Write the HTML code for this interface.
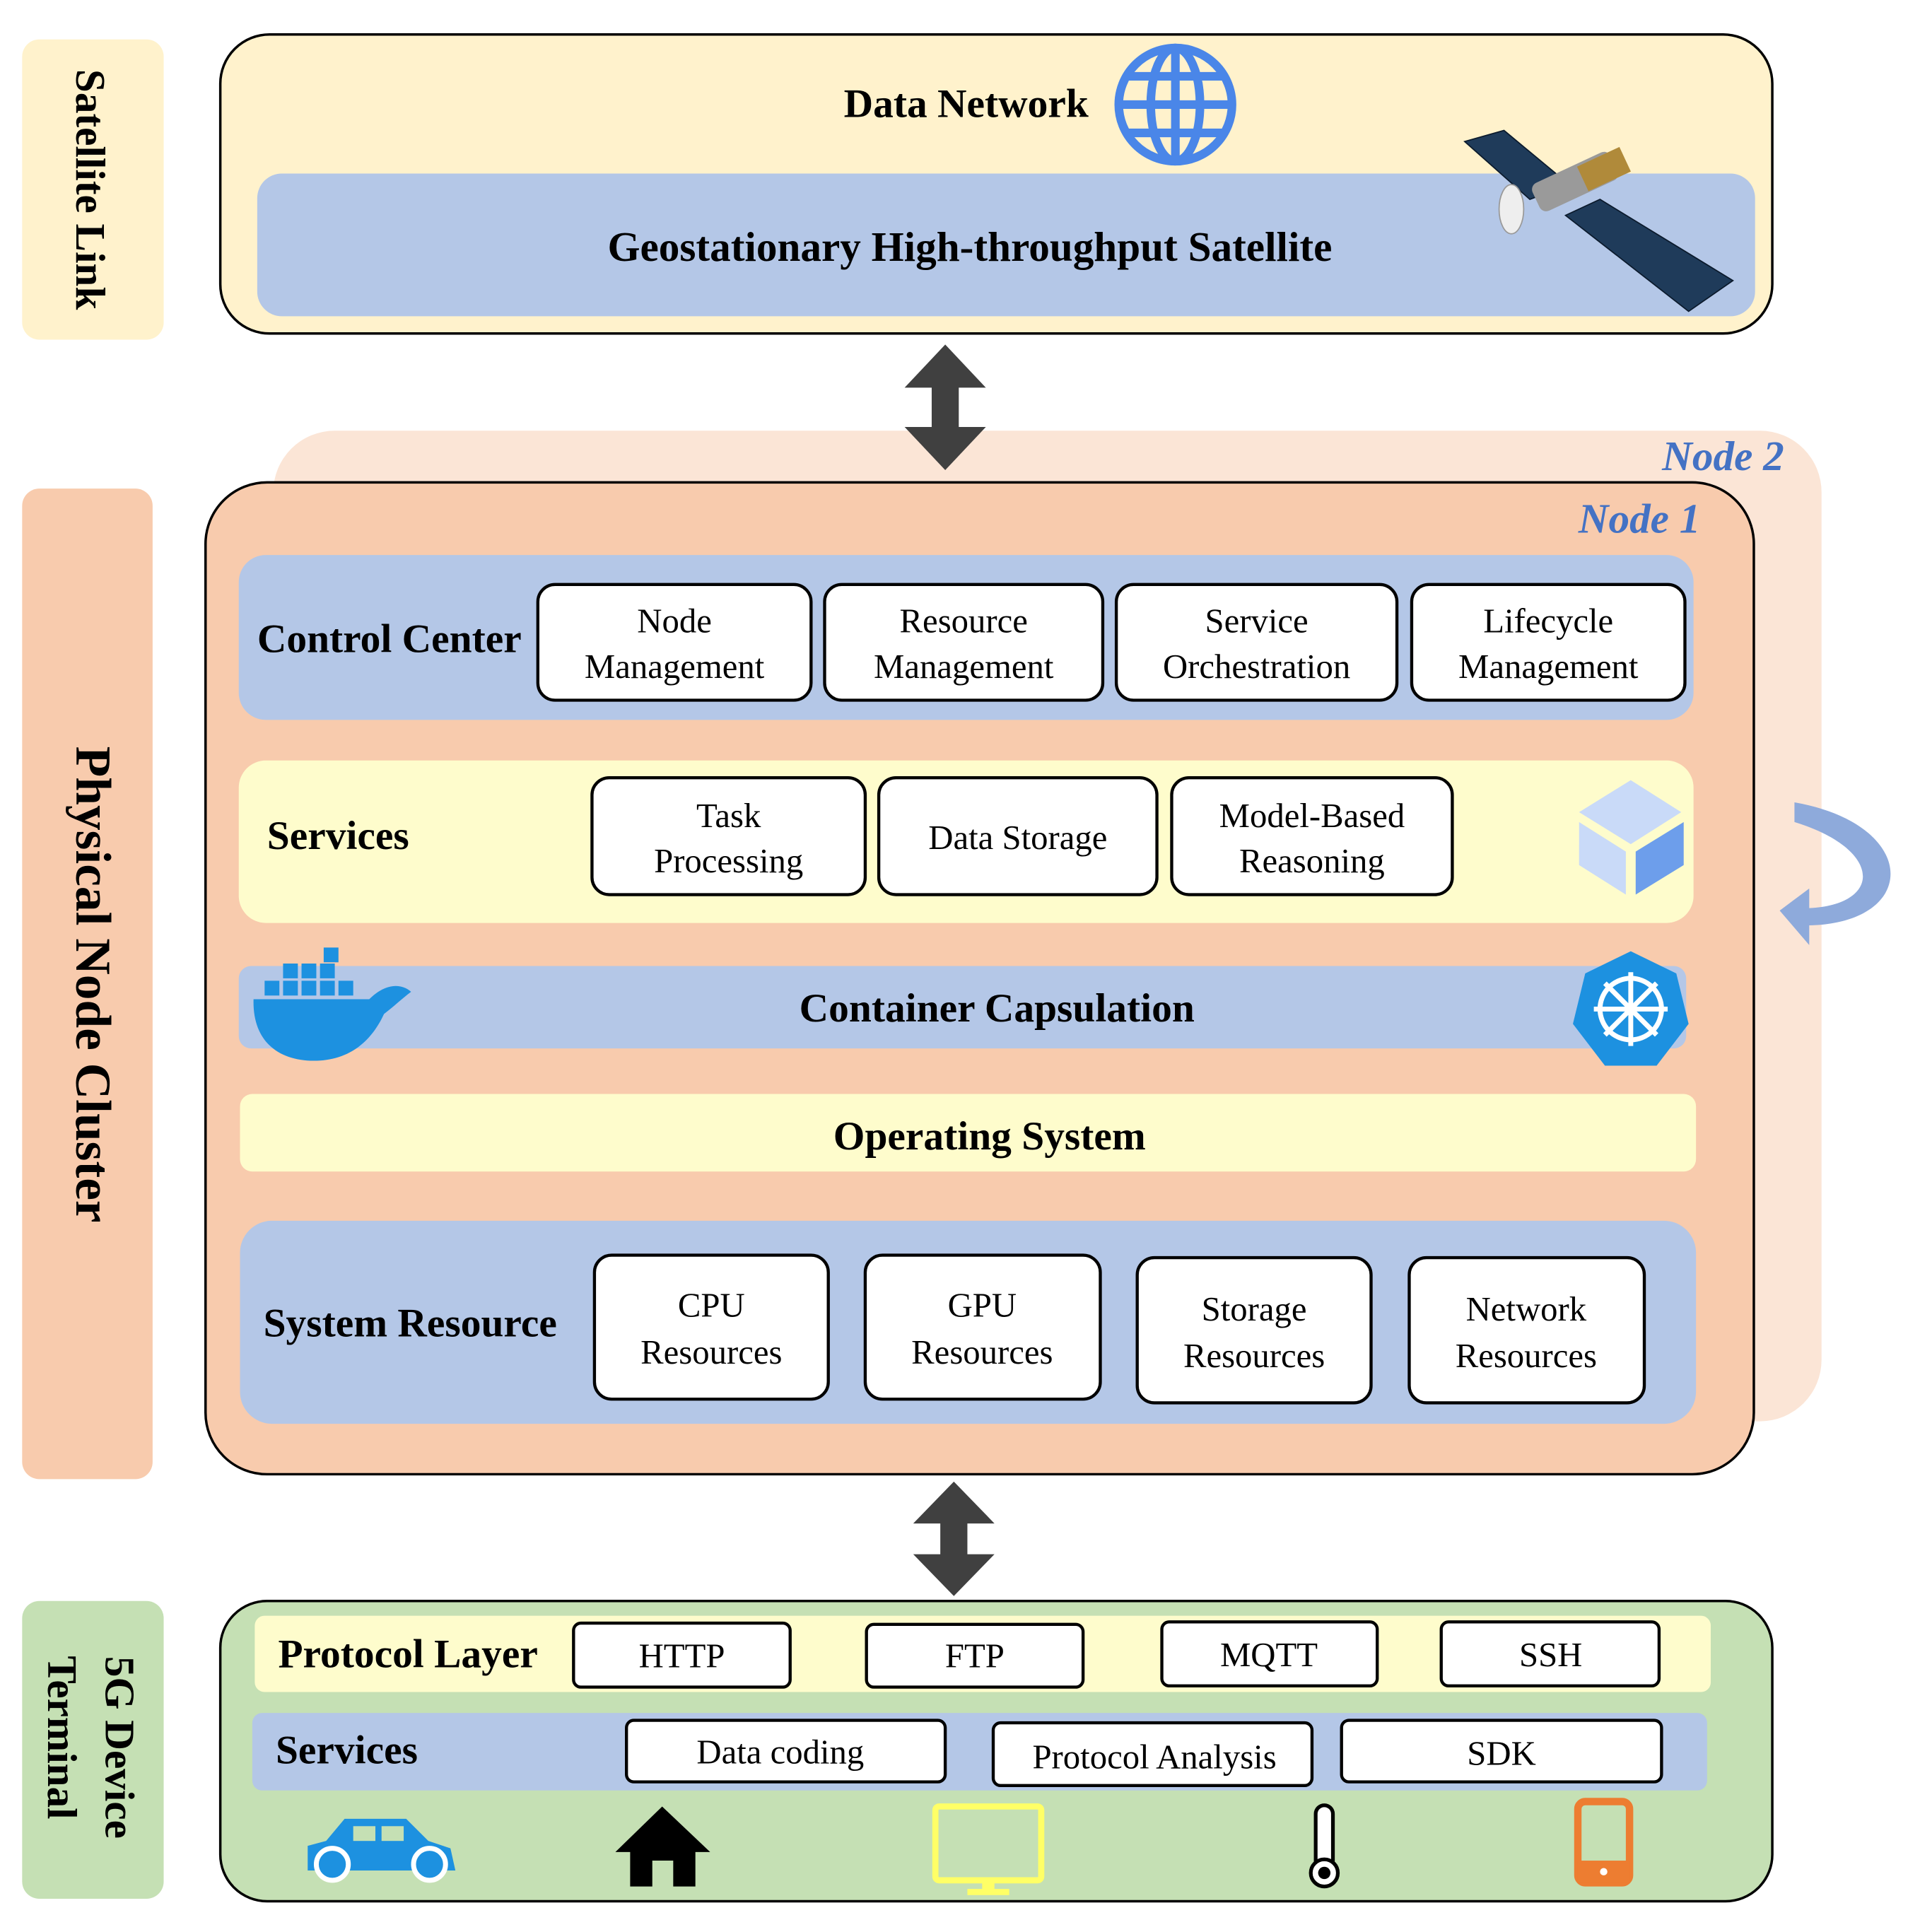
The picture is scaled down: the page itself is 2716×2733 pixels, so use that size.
<!DOCTYPE html>
<html><head><meta charset="utf-8"><style>
html,body{margin:0;padding:0;background:#fff}
svg{display:block}
text{font-family:"Liberation Serif",serif}
.b{font-weight:bold}
</style></head><body>
<svg width="2716" height="2733" viewBox="0 0 1560 1570" preserveAspectRatio="none" xmlns="http://www.w3.org/2000/svg">
<!-- Satellite link -->
<rect x="18" y="32" width="115" height="244" rx="14" fill="#fff2cc"/>
<text class="b" font-size="34" transform="translate(62,154) rotate(90)" text-anchor="middle">Satellite Link</text>
<rect x="179" y="28" width="1261" height="243" rx="40" fill="#fff2cc" stroke="#000" stroke-width="2"/>
<text class="b" font-size="33" x="785" y="95" text-anchor="middle">Data Network</text>
<g fill="none" stroke="#4a86e8" stroke-width="7">
<circle cx="955" cy="85" r="46"/>
<ellipse cx="955" cy="85" rx="20" ry="46"/>
<line x1="955" y1="39" x2="955" y2="131"/>
<line x1="909" y1="85" x2="1001" y2="85"/>
<line x1="915" y1="62" x2="995" y2="62"/>
<line x1="915" y1="108" x2="995" y2="108"/>
</g>
<rect x="209" y="141" width="1217" height="116" rx="20" fill="#b4c7e7"/>
<text class="b" font-size="34" x="788" y="212" text-anchor="middle">Geostationary High-throughput Satellite</text>
<!-- satellite -->
<g>
<polygon points="1190,115 1222,106 1275,150 1243,162" fill="#1f3b5a" stroke="#0b1a2c"/>
<polygon points="1272,175 1300,162 1408,228 1372,253" fill="#1f3b5a" stroke="#0b1a2c"/>
<rect x="1245" y="135" width="70" height="25" rx="6" fill="#9a9a9a" transform="rotate(-25 1280 148)"/>
<rect x="1285" y="128" width="38" height="22" fill="#b08a3a" transform="rotate(-25 1300 140)"/>
<ellipse cx="1228" cy="170" rx="10" ry="20" fill="#eee" stroke="#999"/>
</g>
<!-- node 2 -->
<rect x="222" y="350" width="1258" height="805" rx="50" fill="#fbe5d6"/>
<text class="b" font-style="italic" font-size="34" x="1400" y="382" text-anchor="middle" fill="#4472c4">Node 2</text>
<!-- arrow 1 -->
<polygon points="768,280 801,315 779,315 779,347 801,347 768,382 735,347 757,347 757,315 735,315" fill="#404040"/>
<!-- physical node label -->
<rect x="18" y="397" width="106" height="805" rx="14" fill="#f8cbad"/>
<text class="b" font-size="41" transform="translate(62,800) rotate(90)" text-anchor="middle">Physical Node Cluster</text>
<!-- node1 -->
<rect x="167" y="392" width="1258" height="806" rx="50" fill="#f8cbad" stroke="#000" stroke-width="2"/>
<text class="b" font-style="italic" font-size="34" x="1332" y="433" text-anchor="middle" fill="#4472c4">Node 1</text>
<!-- control center -->
<rect x="194" y="451" width="1182" height="134" rx="22" fill="#b4c7e7"/>
<text class="b" font-size="33" x="209" y="530">Control Center</text>
<g fill="#fff" stroke="#000" stroke-width="2.5">
<rect x="437" y="475" width="222" height="94" rx="14"/>
<rect x="670" y="475" width="226" height="94" rx="14"/>
<rect x="907" y="475" width="228" height="94" rx="14"/>
<rect x="1147" y="475" width="222" height="94" rx="14"/>
</g>
<g font-size="28" text-anchor="middle">
<text x="548" y="514">Node</text><text x="548" y="551">Management</text>
<text x="783" y="514">Resource</text><text x="783" y="551">Management</text>
<text x="1021" y="514">Service</text><text x="1021" y="551">Orchestration</text>
<text x="1258" y="514">Lifecycle</text><text x="1258" y="551">Management</text>
</g>
<!-- services -->
<rect x="194" y="618" width="1182" height="132" rx="22" fill="#fefccc"/>
<text class="b" font-size="33" x="217" y="690">Services</text>
<g fill="#fff" stroke="#000" stroke-width="2.5">
<rect x="481" y="632" width="222" height="95" rx="14"/>
<rect x="714" y="632" width="226" height="95" rx="14"/>
<rect x="952" y="632" width="228" height="95" rx="14"/>
</g>
<g font-size="28" text-anchor="middle">
<text x="592" y="672">Task</text><text x="592" y="709">Processing</text>
<text x="827" y="690">Data Storage</text>
<text x="1066" y="672">Model-Based</text><text x="1066" y="709">Reasoning</text>
</g>
<polygon points="1325,634 1366,660 1325,686 1283,660" fill="#c9daf8"/>
<polygon points="1283,668 1321,692 1321,727 1283,703" fill="#c9daf8"/>
<polygon points="1368,668 1329,692 1329,727 1368,703" fill="#6d9eeb"/>
<!-- curved arrow -->
<path d="M1458,652 C1560,670 1560,750 1470,752 L1470,768 L1446,740 L1470,722 L1470,738 C1530,735 1530,690 1458,668 Z" fill="#8eaadb"/>
<!-- container -->
<rect x="194" y="785" width="1176" height="67" rx="10" fill="#b4c7e7"/>
<text class="b" font-size="33" x="810" y="830" text-anchor="middle">Container Capsulation</text>
<path d="M206,812 L300,812 C312,800 325,798 334,806 C326,812 320,818 312,824 C300,850 280,862 255,862 C225,862 205,845 206,812 Z" fill="#1d91e0"/>
<g fill="#1d91e0"><rect x="215" y="797" width="12" height="12"/><rect x="230" y="797" width="12" height="12"/><rect x="245" y="797" width="12" height="12"/><rect x="260" y="797" width="12" height="12"/><rect x="275" y="797" width="12" height="12"/><rect x="230" y="783" width="12" height="12"/><rect x="245" y="783" width="12" height="12"/><rect x="260" y="783" width="12" height="12"/><rect x="263" y="770" width="12" height="12"/></g>
<polygon points="1325,773 1362,791 1372,832 1346,866 1304,866 1278,832 1288,791" fill="#1d91e0"/>
<g stroke="#fff" stroke-width="4" fill="none"><circle cx="1325" cy="820" r="25"/><line x1="1325" y1="790" x2="1325" y2="850"/><line x1="1295" y1="820" x2="1355" y2="820"/><line x1="1304" y1="799" x2="1346" y2="841"/><line x1="1346" y1="799" x2="1304" y2="841"/></g>
<!-- OS -->
<rect x="195" y="889" width="1183" height="63" rx="10" fill="#fefccc"/>
<text class="b" font-size="33" x="804" y="934" text-anchor="middle">Operating System</text>
<!-- System resource -->
<rect x="195" y="992" width="1183" height="165" rx="26" fill="#b4c7e7"/>
<text class="b" font-size="33" x="214" y="1086">System Resource</text>
<g fill="#fff" stroke="#000" stroke-width="2.5">
<rect x="483" y="1020" width="190" height="117" rx="14"/>
<rect x="703" y="1020" width="191" height="117" rx="14"/>
<rect x="924" y="1022" width="190" height="118" rx="14"/>
<rect x="1145" y="1022" width="191" height="118" rx="14"/>
</g>
<g font-size="28" text-anchor="middle">
<text x="578" y="1070">CPU</text><text x="578" y="1108">Resources</text>
<text x="798" y="1070">GPU</text><text x="798" y="1108">Resources</text>
<text x="1019" y="1073">Storage</text><text x="1019" y="1111">Resources</text>
<text x="1240" y="1073">Network</text><text x="1240" y="1111">Resources</text>
</g>
<!-- arrow 2 -->
<polygon points="775,1204 808,1238 786,1238 786,1263 808,1263 775,1297 742,1263 764,1263 764,1238 742,1238" fill="#404040"/>
<!-- 5G -->
<rect x="18" y="1301" width="115" height="242" rx="14" fill="#c5e0b4"/>
<text class="b" font-size="34" transform="translate(86,1420) rotate(90)" text-anchor="middle">5G Device</text>
<text class="b" font-size="34" transform="translate(39,1412) rotate(90)" text-anchor="middle">Terminal</text>
<rect x="179" y="1301" width="1261" height="244" rx="38" fill="#c5e0b4" stroke="#000" stroke-width="2"/>
<rect x="207" y="1313" width="1183" height="62" rx="8" fill="#fefccc"/>
<text class="b" font-size="33" x="226" y="1355">Protocol Layer</text>
<g fill="#fff" stroke="#000" stroke-width="2.5">
<rect x="466" y="1319" width="176" height="52" rx="6"/>
<rect x="704" y="1320" width="176" height="51" rx="6"/>
<rect x="944" y="1318" width="175" height="52" rx="6"/>
<rect x="1171" y="1318" width="177" height="52" rx="6"/>
</g>
<g font-size="28" text-anchor="middle">
<text x="554" y="1355">HTTP</text><text x="792" y="1355">FTP</text><text x="1031" y="1354">MQTT</text><text x="1260" y="1354">SSH</text>
</g>
<rect x="205" y="1392" width="1182" height="63" rx="8" fill="#b4c7e7"/>
<text class="b" font-size="33" x="224" y="1433">Services</text>
<g fill="#fff" stroke="#000" stroke-width="2.5">
<rect x="509" y="1398" width="259" height="50" rx="6"/>
<rect x="807" y="1400" width="259" height="51" rx="6"/>
<rect x="1090" y="1398" width="260" height="50" rx="6"/>
</g>
<g font-size="28" text-anchor="middle">
<text x="634" y="1433">Data coding</text><text x="938" y="1437">Protocol Analysis</text><text x="1220" y="1434">SDK</text>
</g>
<!-- icons -->
<g fill="#1d91e0">
<path d="M250,1500 L265,1496 L280,1478 L330,1478 L348,1496 L366,1502 L370,1520 L250,1520 Z"/>
<circle cx="270" cy="1515" r="13" stroke="#fff" stroke-width="4"/><circle cx="349" cy="1515" r="13" stroke="#fff" stroke-width="4"/>
</g>
<rect x="287" y="1484" width="18" height="12" fill="#c5e0b4"/><rect x="310" y="1484" width="18" height="12" fill="#c5e0b4"/>
<polygon points="538,1468 577,1505 565,1505 565,1533 547,1533 547,1512 530,1512 530,1533 512,1533 512,1505 500,1505" fill="#000"/>
<rect x="760" y="1468" width="86" height="60" rx="3" fill="none" stroke="#ffff66" stroke-width="5"/>
<rect x="798" y="1528" width="10" height="8" fill="#ffff66"/><rect x="786" y="1535" width="34" height="5" fill="#ffff66"/>
<rect x="1069" y="1467" width="14" height="52" rx="7" fill="#fff" stroke="#000" stroke-width="3"/>
<circle cx="1076" cy="1522" r="11" fill="#fff" stroke="#000" stroke-width="3"/><circle cx="1076" cy="1522" r="5" fill="#000"/>
<rect x="1282" y="1464" width="42" height="66" rx="6" fill="none" stroke="#ed7d31" stroke-width="6"/>
<rect x="1282" y="1512" width="42" height="18" fill="#ed7d31"/><circle cx="1303" cy="1521" r="3" fill="#fff"/>
</svg>
</body></html>
